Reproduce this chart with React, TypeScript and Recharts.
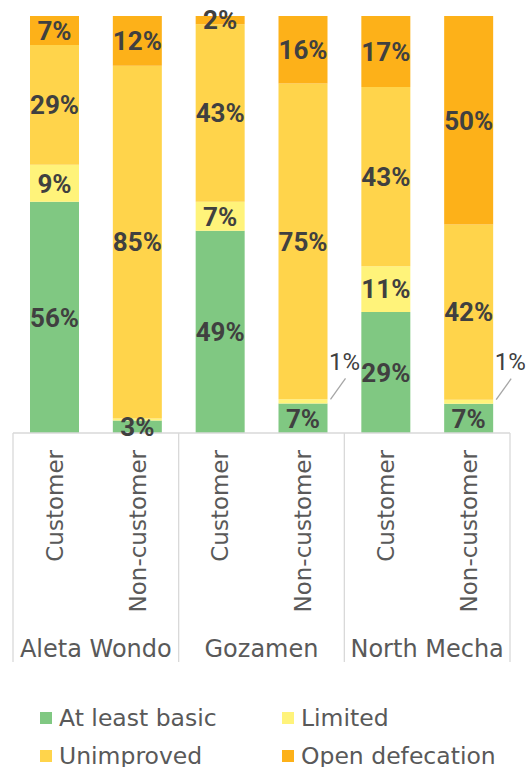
import React from 'react';
import { BarChart, Bar, XAxis, YAxis, LabelList } from 'recharts';

const groups = ['Aleta Wondo', 'Aleta Wondo', 'Gozamen', 'Gozamen', 'North Mecha', 'North Mecha'];
const categories = ['Customer', 'Non-customer', 'Customer', 'Non-customer', 'Customer', 'Non-customer'];

const atLeastBasic = [56, 3, 49, 7, 29, 7];
const limited = [9, 0.5, 7, 1, 11, 1];
const unimproved = [29, 85, 43, 75, 43, 42];
const openDefecation = [7, 12, 2, 16, 17, 50];

const seriesNames = ['At least basic', 'Limited', 'Unimproved', 'Open defecation'];
const seriesKeys = ['basic', 'limited', 'unimproved', 'open'];
const seriesColors = ['#80C882', '#FFF37A', '#FFD44B', '#FDB119'];

const data = categories.map((c, i) => ({
  id: `${groups[i]}|${c}|${i}`,
  basic: atLeastBasic[i],
  limited: limited[i],
  unimproved: unimproved[i],
  open: openDefecation[i],
}));

const W = 526;
const H = 767;
const M = { top: 16, right: 16, left: 13, bottom: 0 };
const AXIS_H = 334;
const SLOT = (W - M.left - M.right) / data.length;
const GRID = '#D9D9D9';
const AXIS_TEXT = '#595959';
const LABEL_TEXT = '#404040';
const AXIS_FONT = '"DejaVu Sans", sans-serif';
const LABEL_FONT = 'Roboto, sans-serif';

const Tick = (props: any) => {
  const { x, y, payload } = props;
  const [group, cat, idxStr] = String(payload.value).split('|');
  const i = Number(idxStr);
  const top = y;
  const lineBottom = top + 229;
  const tx = x;
  const ty = top + 17;
  return (
    <g>
      {i % 2 === 0 && (
        <line x1={x - SLOT / 2} x2={x - SLOT / 2} y1={top} y2={lineBottom} stroke={GRID} strokeWidth={1.3} />
      )}
      {i === data.length - 1 && (
        <line x1={x + SLOT / 2} x2={x + SLOT / 2} y1={top} y2={lineBottom} stroke={GRID} strokeWidth={1.3} />
      )}
      <text
        x={tx}
        y={ty}
        transform={`rotate(-90, ${tx}, ${ty})`}
        textAnchor="end"
        dy="0.36em"
        fill={AXIS_TEXT}
        fontFamily={AXIS_FONT}
        fontSize={23}
      >
        {cat}
      </text>
      {i % 2 === 1 && (
        <text
          x={x - SLOT / 2}
          y={top + 215}
          textAnchor="middle"
          dy="0.36em"
          fill={AXIS_TEXT}
          fontFamily={AXIS_FONT}
          fontSize={24}
        >
          {group}
        </text>
      )}
    </g>
  );
};

const makeLabel = (outsideSmall: boolean) => (props: any) => {
  const { x, y, width, height, value } = props;
  const v = Number(value);
  if (!(v > 0)) return null;
  const cx = Number(x) + Number(width) / 2;
  const cy = Number(y) + Number(height) / 2;
  if (v < 0.9) return null;
  if (outsideSmall && v < 2) {
    const rx = Number(x) + Number(width);
    return (
      <g>
        <line x1={rx + 3} y1={cy - 2} x2={rx + 18} y2={cy - 23} stroke="#A6A6A6" strokeWidth={1.3} />
        <text
          x={rx + 1.5}
          y={cy - 40}
          dy="0.36em"
          textAnchor="start"
          fill={LABEL_TEXT}
          fontFamily={LABEL_FONT}
          fontSize={24}
        >
          {`${v}%`}
        </text>
      </g>
    );
  }
  return (
    <text
      x={cx}
      y={cy}
      dy="0.36em"
      textAnchor="middle"
      fill={LABEL_TEXT}
      fontFamily={LABEL_FONT}
      fontWeight={700}
      fontSize={26}
    >
      {`${v}%`}
    </text>
  );
};

const legendRows = [
  [0, 1],
  [2, 3],
];
const legendColX = [40, 282];
const legendRowY = [718, 756];

export default function App() {
  return (
    <div style={{ position: 'absolute', left: 0, top: 0, width: W, height: H, background: '#fff', overflow: 'hidden' }}>
      <BarChart width={W} height={H} data={data} margin={M} stackOffset="expand" barSize={49}>
        <XAxis
          dataKey="id"
          height={AXIS_H}
          interval={0}
          tickLine={false}
          tickSize={0}
          tickMargin={0}
          axisLine={{ stroke: GRID, strokeWidth: 1.3 }}
          tick={<Tick />}
        />
        <YAxis hide domain={[0, 1]} />
        {seriesKeys.map((k, si) => (
          <Bar
            key={k}
            dataKey={k}
            name={seriesNames[si]}
            stackId="a"
            fill={seriesColors[si]}
            isAnimationActive={false}
          >
            <LabelList dataKey={k} content={makeLabel(k === 'limited')} />
          </Bar>
        ))}
      </BarChart>
      {legendRows.map((row, ri) =>
        row.map((si, ci) => (
          <div
            key={si}
            style={{
              position: 'absolute',
              left: legendColX[ci],
              top: legendRowY[ri] - 15,
              height: 30,
              display: 'flex',
              alignItems: 'center',
              fontFamily: AXIS_FONT,
              fontSize: 23.5,
              color: AXIS_TEXT,
              whiteSpace: 'nowrap',
            }}
          >
            <span style={{ display: 'inline-block', width: 12, height: 12, background: seriesColors[si], marginRight: 7 }} />
            <span>{seriesNames[si]}</span>
          </div>
        ))
      )}
    </div>
  );
}
